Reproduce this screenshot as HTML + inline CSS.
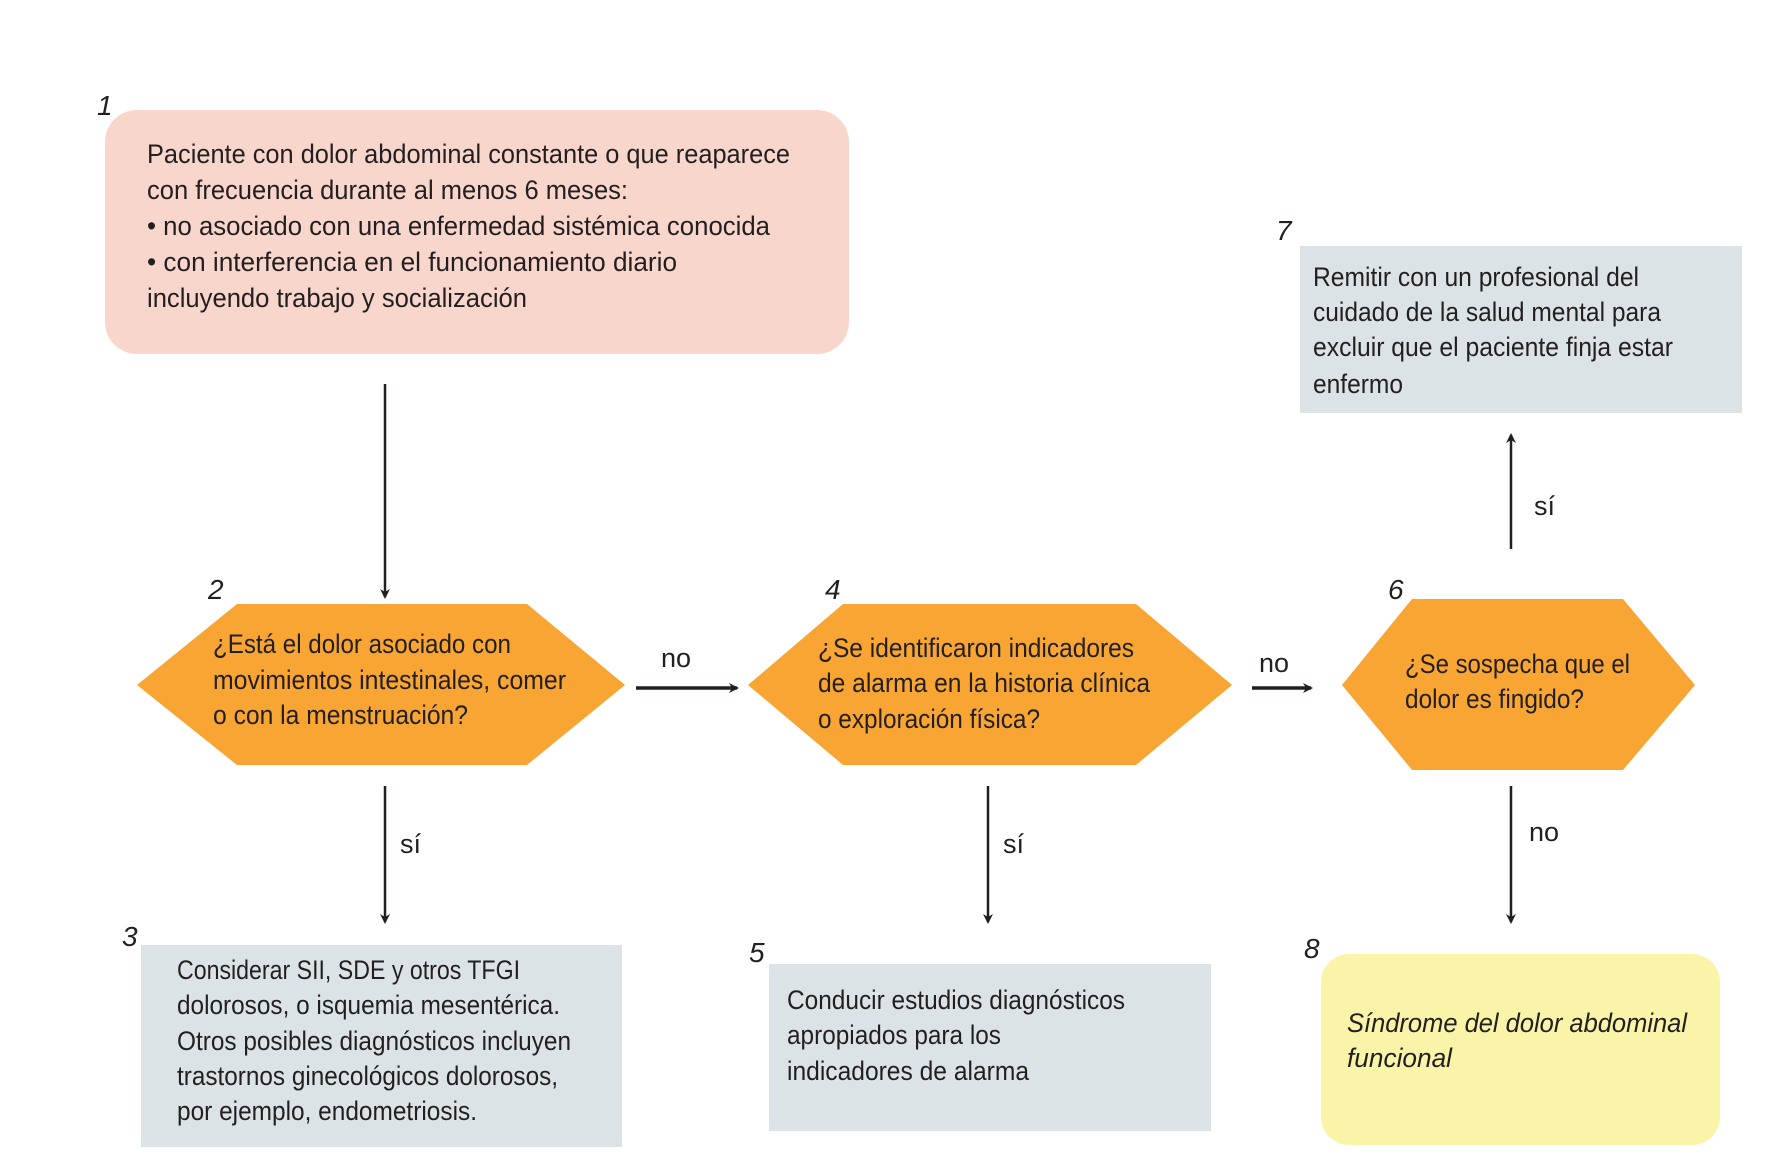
<!DOCTYPE html>
<html><head><meta charset="utf-8"><style>html,body{margin:0;padding:0;background:#fff}svg{display:block}text{font-family:"Liberation Sans",sans-serif;fill:#231f20;font-size:27px}.n{font-style:italic;font-size:28px}</style></head>
<body>
<svg width="1766" height="1154" viewBox="0 0 1766 1154" xmlns="http://www.w3.org/2000/svg">
<defs><marker id="a" markerWidth="10" markerHeight="10" refX="8" refY="5" orient="auto" markerUnits="userSpaceOnUse"><path d="M0,0 L10,5 L0,10 L3,5 Z" fill="#231f20"/></marker></defs>
<rect x="105" y="110" width="744" height="244" rx="32" fill="#f8d6cc"/>
<rect x="1300" y="246" width="442" height="167" fill="#dce3e7"/>
<rect x="141" y="945" width="481" height="202" fill="#dce3e7"/>
<rect x="769" y="964" width="442" height="167" fill="#dce3e7"/>
<rect x="1321" y="954" width="399" height="191" rx="28" fill="#f9f4a8"/>
<polygon points="137,685 237,604 527,604 625,685 527,765 237,765" fill="#f8a533"/>
<polygon points="748,685 843,604 1136,604 1232,685 1136,765 843,765" fill="#f8a533"/>
<polygon points="1342,685 1412,599 1623,599 1695,685 1623,770 1412,770" fill="#f8a533"/>
<g stroke="#231f20" stroke-width="2.5" fill="none">
<line x1="385" y1="384" x2="385" y2="597" marker-end="url(#a)"/>
<line x1="385" y1="786" x2="385" y2="922" marker-end="url(#a)"/>
<line x1="988" y1="786" x2="988" y2="922" marker-end="url(#a)"/>
<line x1="1511" y1="786" x2="1511" y2="922" marker-end="url(#a)"/>
<line x1="1511" y1="549" x2="1511" y2="435" marker-end="url(#a)"/>
<line x1="636" y1="688" x2="737" y2="688" stroke-width="3.5" marker-end="url(#a)"/>
<line x1="1252" y1="688" x2="1311" y2="688" stroke-width="3.5" marker-end="url(#a)"/>
</g>
<text class="n" x="97" y="115">1</text>
<text class="n" x="208" y="599">2</text>
<text class="n" x="825" y="599">4</text>
<text class="n" x="1388" y="599">6</text>
<text class="n" x="1276" y="240">7</text>
<text class="n" x="122" y="946">3</text>
<text class="n" x="749" y="962">5</text>
<text class="n" x="1304" y="958">8</text>
<text x="147" y="163" textLength="643" lengthAdjust="spacingAndGlyphs">Paciente con dolor abdominal constante o que reaparece</text>
<text x="147" y="199" textLength="481" lengthAdjust="spacingAndGlyphs">con frecuencia durante al menos 6 meses:</text>
<text x="147" y="235" textLength="623" lengthAdjust="spacingAndGlyphs">• no asociado con una enfermedad sistémica conocida</text>
<text x="147" y="271" textLength="530" lengthAdjust="spacingAndGlyphs">• con interferencia en el funcionamiento diario</text>
<text x="147" y="307" textLength="380" lengthAdjust="spacingAndGlyphs">incluyendo trabajo y socialización</text>
<text x="213" y="653" textLength="298" lengthAdjust="spacingAndGlyphs">¿Está el dolor asociado con</text>
<text x="213" y="689" textLength="353" lengthAdjust="spacingAndGlyphs">movimientos intestinales, comer</text>
<text x="213" y="724" textLength="255" lengthAdjust="spacingAndGlyphs">o con la menstruación?</text>
<text x="818" y="657" textLength="316" lengthAdjust="spacingAndGlyphs">¿Se identificaron indicadores</text>
<text x="818" y="692" textLength="332" lengthAdjust="spacingAndGlyphs">de alarma en la historia clínica</text>
<text x="818" y="728" textLength="222" lengthAdjust="spacingAndGlyphs">o exploración física?</text>
<text x="1405" y="673" textLength="225" lengthAdjust="spacingAndGlyphs">¿Se sospecha que el</text>
<text x="1405" y="708" textLength="179" lengthAdjust="spacingAndGlyphs">dolor es fingido?</text>
<text x="1313" y="286" textLength="326" lengthAdjust="spacingAndGlyphs">Remitir con un profesional del</text>
<text x="1313" y="321" textLength="348" lengthAdjust="spacingAndGlyphs">cuidado de la salud mental para</text>
<text x="1313" y="356" textLength="360" lengthAdjust="spacingAndGlyphs">excluir que el paciente finja estar</text>
<text x="1313" y="393" textLength="90" lengthAdjust="spacingAndGlyphs">enfermo</text>
<text x="177" y="979" textLength="343" lengthAdjust="spacingAndGlyphs">Considerar SII, SDE y otros TFGI</text>
<text x="177" y="1014" textLength="383" lengthAdjust="spacingAndGlyphs">dolorosos, o isquemia mesentérica.</text>
<text x="177" y="1050" textLength="394" lengthAdjust="spacingAndGlyphs">Otros posibles diagnósticos incluyen</text>
<text x="177" y="1085" textLength="381" lengthAdjust="spacingAndGlyphs">trastornos ginecológicos dolorosos,</text>
<text x="177" y="1120" textLength="300" lengthAdjust="spacingAndGlyphs">por ejemplo, endometriosis.</text>
<text x="787" y="1009" textLength="338" lengthAdjust="spacingAndGlyphs">Conducir estudios diagnósticos</text>
<text x="787" y="1044" textLength="214" lengthAdjust="spacingAndGlyphs">apropiados para los</text>
<text x="787" y="1080" textLength="242" lengthAdjust="spacingAndGlyphs">indicadores de alarma</text>
<text x="1347" y="1032" font-style="italic" textLength="340" lengthAdjust="spacingAndGlyphs">Síndrome del dolor abdominal</text>
<text x="1347" y="1067" font-style="italic" textLength="105" lengthAdjust="spacingAndGlyphs">funcional</text>
<text x="661" y="667">no</text>
<text x="1259" y="672">no</text>
<text x="1529" y="841">no</text>
<text x="400" y="853">sí</text>
<text x="1003" y="853">sí</text>
<text x="1534" y="515">sí</text>
</svg>
</body></html>
